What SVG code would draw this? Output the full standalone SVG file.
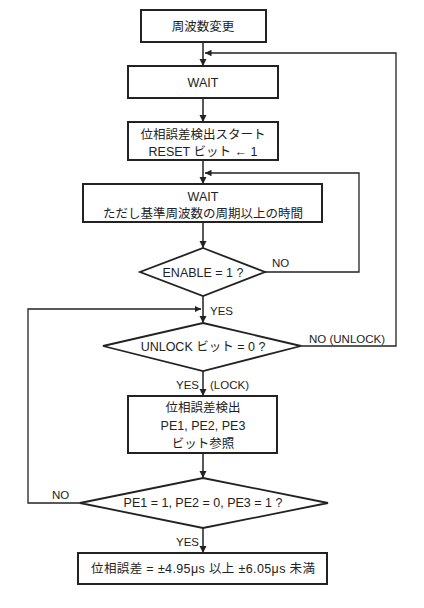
<svg xmlns="http://www.w3.org/2000/svg" width="424" height="608" viewBox="0 0 424 608">
<defs>
<style>
.box{fill:#fff;stroke:#222;stroke-width:2}
.dia{fill:#fff;stroke:#222;stroke-width:1.8}
.ln{fill:none;stroke:#222;stroke-width:1.5}
.lp{fill:none;stroke:#222;stroke-width:1.3}
text{font-family:"Liberation Sans","Noto Sans CJK JP",sans-serif;font-size:12.5px;fill:#222;text-anchor:middle}
.lbl{text-anchor:start;font-size:11.5px}
</style>
<marker id="ah" viewBox="0 0 10 10" refX="10" refY="5" markerWidth="5" markerHeight="5" orient="auto"><path d="M0,0L10,5L0,10z" fill="#222"/></marker>
</defs>
<rect width="424" height="608" fill="#fff"/>
<g id="connectors">
<line class="ln" x1="203" y1="42" x2="203" y2="66" marker-end="url(#ah)"/>
<line class="ln" x1="203" y1="98" x2="203" y2="122" marker-end="url(#ah)"/>
<line class="ln" x1="203" y1="160" x2="203" y2="184" marker-end="url(#ah)"/>
<line class="ln" x1="203" y1="222" x2="203" y2="248" marker-end="url(#ah)"/>
<line class="ln" x1="203" y1="296" x2="203" y2="323" marker-end="url(#ah)"/>
<line class="ln" x1="203" y1="371" x2="203" y2="396" marker-end="url(#ah)"/>
<line class="ln" x1="203" y1="453" x2="203" y2="478" marker-end="url(#ah)"/>
<line class="ln" x1="203" y1="528" x2="203" y2="553" marker-end="url(#ah)"/>
<polyline class="lp" points="265,272 359,272 359,173 205,173" marker-end="url(#ah)"/>
<polyline class="lp" points="301,346 396,346 396,53 205,53" marker-end="url(#ah)"/>
<polyline class="lp" points="80,503 28,503 28,309 201,309" marker-end="url(#ah)"/>
<text class="lbl" x="272" y="267">NO</text>
<text class="lbl" x="210" y="315">YES</text>
<text class="lbl" x="309" y="343">NO (UNLOCK)</text>
<text class="lbl" x="176" y="389">YES</text>
<text class="lbl" x="210" y="389">(LOCK)</text>
<text class="lbl" x="52" y="499">NO</text>
<text class="lbl" x="176" y="546">YES</text>
</g>
<g id="n1"><rect class="box" x="141" y="10" width="125" height="32"/><text x="203" y="31">周波数変更</text></g>
<g id="n2"><rect class="box" x="128" y="66" width="150" height="32"/><text x="203" y="87">WAIT</text></g>
<g id="n3"><rect class="box" x="128" y="122" width="150" height="38"/><text x="203" y="139">位相誤差検出スタート</text><text x="203" y="156">RESET ビット ← 1</text></g>
<g id="n4"><rect class="box" x="83" y="184" width="239" height="38"/><text x="203" y="201">WAIT</text><text x="203" y="218">ただし基準周波数の周期以上の時間</text></g>
<g id="n5"><polygon class="dia" points="203,248 265,272 203,296 140,272"/><text x="203" y="277">ENABLE = 1 ?</text></g>
<g id="n6"><polygon class="dia" points="203,323 301,346 203,371 103,346"/><text x="203" y="351">UNLOCK ビット = 0 ?</text></g>
<g id="n7"><rect class="box" x="128" y="396" width="149" height="57"/><text x="203" y="412">位相誤差検出</text><text x="203" y="430">PE1, PE2, PE3</text><text x="203" y="448">ビット参照</text></g>
<g id="n8"><polygon class="dia" points="203,478 328,503 203,528 80,503"/><text x="203" y="507">PE1 = 1, PE2 = 0, PE3 = 1 ?</text></g>
<g id="n9"><rect class="box" x="78" y="553" width="249" height="31"/><text x="203" y="573" textLength="224" lengthAdjust="spacing">位相誤差 = ±4.95μs 以上 ±6.05μs 未満</text></g>
</svg>
